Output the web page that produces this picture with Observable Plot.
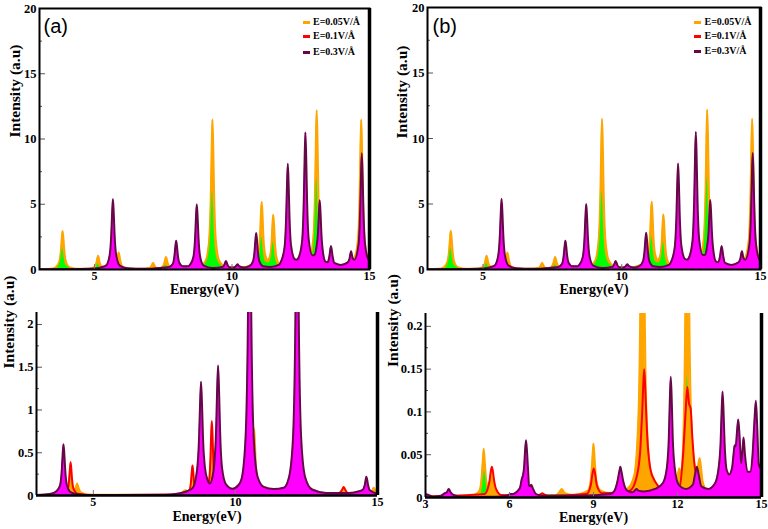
<!DOCTYPE html>
<html><head><meta charset="utf-8">
<script src="https://cdn.jsdelivr.net/npm/d3@7"></script>
<script src="https://cdn.jsdelivr.net/npm/@observablehq/plot@0.6"></script>
<style>
body{margin:0;background:#fff;}
#wrap{position:relative;width:768px;height:529px;overflow:hidden;background:#fff;}
.legend{position:absolute;font-family:"Liberation Serif",serif;font-weight:bold;font-size:10px;color:#000;}
.legend .row{position:absolute;white-space:nowrap;height:10px;line-height:10px;}
.legend .sw{position:absolute;width:7px;height:3px;}
</style></head><body><div id="wrap"></div>
<script>
// ---------- axes / labels ----------
const energyDomain = [3, 15];
const topYTicks = [0, 5, 10, 15, 20];
const topYMinor = [2.5, 7.5, 12.5, 17.5];
const topXTicks = [5, 10, 15];
const blYTicks = [0, 0.5, 1, 1.5, 2];
const blYMinor = [0.25, 0.75, 1.25, 1.75];
const blXTicks = [5, 10, 15];
const brYTicks = [0, 0.05, 0.1, 0.15, 0.2];
const brYMinor = [0.025, 0.075, 0.125, 0.175];
const brXTicks = [3, 6, 9, 12, 15];
const legendLabels = ["E=0.05V/Å", "E=0.1V/Å", "E=0.3V/Å"];
const xLabel = "Energy(eV)";
const yLabel = "Intensity (a.u)";

// ---------- spectra, [energy eV, intensity] ----------
// top panels (a) and (b) show the same spectra
const topOrange = [[3.0,0.02],[3.4,0.05],[3.59,0.17],[3.72,0.6],[3.78,1.5],[3.81,2.36],[3.84,2.95],[3.87,2.36],[3.90,1.5],[3.96,0.6],[4.09,0.17],[4.4,0.05],[4.8,0.06],[5.01,0.21],[5.07,0.52],[5.13,1.05],[5.19,0.52],[5.25,0.25],[5.6,0.2],[5.76,0.3],[5.82,0.65],[5.88,1.3],[5.94,0.65],[6.0,0.26],[6.2,0.08],[6.8,0.06],[7.01,0.12],[7.07,0.27],[7.13,0.5],[7.19,0.27],[7.25,0.12],[7.4,0.1],[7.48,0.22],[7.54,0.5],[7.6,0.95],[7.66,0.5],[7.72,0.25],[7.85,0.3],[8.1,0.25],[8.5,0.2],[8.79,0.2],[9.04,0.65],[9.17,2.3],[9.23,5.75],[9.26,9.2],[9.29,11.5],[9.32,9.2],[9.35,5.75],[9.41,2.3],[9.54,0.65],[9.79,0.2],[10.3,0.15],[10.7,0.35],[10.83,0.45],[10.96,1.1],[11.02,2.6],[11.05,4.2],[11.08,5.2],[11.11,4.2],[11.14,2.6],[11.2,1.2],[11.3,0.75],[11.38,1.0],[11.44,2.1],[11.47,3.4],[11.5,4.2],[11.53,3.4],[11.56,2.1],[11.62,0.9],[11.75,0.35],[12.0,0.2],[12.5,0.35],[12.83,0.9],[12.96,2.5],[13.02,6.1],[13.05,9.8],[13.08,12.2],[13.11,9.8],[13.14,6.1],[13.2,2.5],[13.33,0.8],[13.6,0.3],[14.2,0.4],[14.45,0.9],[14.58,2.3],[14.64,5.75],[14.67,9.2],[14.7,11.5],[14.73,9.2],[14.76,5.75],[14.82,2.3],[14.95,0.8],[15,0.65]];
const topGreen = [[3.0,0],[3.6,0.05],[3.72,0.32],[3.78,0.8],[3.84,1.6],[3.90,0.8],[3.96,0.32],[4.2,0.05],[4.9,0.02],[5.05,0.12],[5.13,0.45],[5.21,0.12],[5.6,0.05],[5.8,0.15],[5.88,0.6],[5.96,0.15],[6.3,0.02],[7.4,0.03],[7.52,0.1],[7.6,0.35],[7.68,0.1],[8.4,0.05],[8.9,0.25],[9.04,0.45],[9.17,1.3],[9.23,3],[9.26,4.8],[9.29,6],[9.32,4.8],[9.35,3],[9.41,1.3],[9.54,0.45],[9.7,0.2],[10.0,0.1],[10.85,0.3],[10.96,0.6],[11.02,1.3],[11.08,2.5],[11.14,1.3],[11.2,0.65],[11.3,0.5],[11.38,0.6],[11.44,1.05],[11.5,2.1],[11.56,1.05],[11.62,0.5],[11.8,0.2],[12.6,0.3],[12.85,0.8],[12.96,1.5],[13.02,3.5],[13.08,7],[13.14,3.5],[13.2,1.5],[13.35,0.6],[14.0,0.2],[14.5,0.3],[14.7,0.5],[15,0.3]];
const topMaroon = [[3.0,0.01],[4.5,0.03],[5.0,0.07],[5.3,0.2],[5.42,0.3],[5.55,1.08],[5.61,2.7],[5.64,4.3],[5.67,5.4],[5.70,4.3],[5.73,2.7],[5.79,1.08],[5.92,0.3],[6.2,0.1],[6.8,0.05],[7.5,0.15],[7.72,0.2],[7.85,0.44],[7.91,1.1],[7.94,1.76],[7.97,2.2],[8.0,1.76],[8.03,1.1],[8.09,0.5],[8.22,0.25],[8.4,0.25],[8.47,0.35],[8.6,1.0],[8.66,2.5],[8.69,4.0],[8.72,5.0],[8.75,4.0],[8.78,2.5],[8.84,1.0],[8.97,0.3],[9.3,0.12],[9.66,0.2],[9.72,0.35],[9.78,0.65],[9.84,0.35],[9.9,0.18],[10.05,0.15],[10.14,0.25],[10.2,0.4],[10.26,0.25],[10.45,0.15],[10.63,0.25],[10.76,0.6],[10.82,1.4],[10.85,2.24],[10.88,2.8],[10.91,2.24],[10.94,1.4],[11.0,0.6],[11.13,0.25],[11.4,0.2],[11.7,0.35],[11.78,0.6],[11.91,1.7],[11.97,4.1],[12.0,6.5],[12.03,8.1],[12.06,6.5],[12.09,4.1],[12.15,1.8],[12.28,0.8],[12.35,0.75],[12.42,0.9],[12.55,2.2],[12.61,5.3],[12.64,8.4],[12.67,10.5],[12.70,8.4],[12.73,5.3],[12.79,2.3],[12.92,1.1],[13.0,1.1],[13.07,1.7],[13.13,2.9],[13.16,4.3],[13.19,5.3],[13.22,4.3],[13.25,2.8],[13.31,1.3],[13.4,0.6],[13.48,0.55],[13.54,1.0],[13.6,1.8],[13.66,1.0],[13.72,0.5],[13.95,0.35],[14.21,0.55],[14.27,0.8],[14.33,1.4],[14.39,0.85],[14.45,0.75],[14.6,1.9],[14.66,4.5],[14.69,7.1],[14.72,8.9],[14.75,7.1],[14.78,4.5],[14.84,1.9],[14.95,0.8],[15,0.7]];

// bottom-left panel
const blOrange = [[3.0,0.003],[4.2,0.03],[4.33,0.06],[4.39,0.1],[4.43,0.14],[4.47,0.1],[4.55,0.04],[4.8,0.01],[7.9,0.01],[8.15,0.04],[8.24,0.06],[8.33,0.05],[8.6,0.08],[8.85,0.1],[8.95,0.19],[9.0,0.21],[9.05,0.18],[9.15,0.1],[9.4,0.05],[10.3,0.1],[10.5,0.25],[10.6,0.4],[10.63,0.6],[10.66,0.78],[10.69,0.6],[10.72,0.35],[10.8,0.15],[11.0,0.08],[12.5,0.03],[12.6,0.06],[12.65,0.08],[12.7,0.06],[12.8,0.03],[14.7,0.02],[14.82,0.06],[14.87,0.09],[14.92,0.06],[15,0.04]];
const blGreen = [[3.0,0],[4.35,0.003],[4.43,0.04],[4.5,0.003],[15,0]];
const blRed = [[3.0,0.003],[3.9,0.02],[4.05,0.06],[4.1,0.08],[4.15,0.195],[4.175,0.31],[4.2,0.39],[4.225,0.31],[4.25,0.195],[4.3,0.08],[4.45,0.02],[5.0,0.005],[7.8,0.01],[8.25,0.04],[8.39,0.07],[8.44,0.175],[8.465,0.28],[8.49,0.35],[8.515,0.28],[8.54,0.175],[8.59,0.08],[8.75,0.06],[8.95,0.1],[9.07,0.17],[9.12,0.43],[9.145,0.7],[9.17,0.87],[9.195,0.7],[9.22,0.43],[9.27,0.17],[9.4,0.05],[9.7,0.03],[13.5,0.01],[13.7,0.04],[13.76,0.07],[13.81,0.1],[13.86,0.07],[13.95,0.03],[14.3,0.005],[15,0.003]];
const blMaroon = [[3.0,0.005],[3.5,0.02],[3.7,0.05],[3.83,0.12],[3.89,0.3],[3.92,0.48],[3.95,0.6],[3.98,0.48],[4.01,0.3],[4.07,0.12],[4.2,0.04],[4.45,0.015],[5.0,0.005],[7.5,0.01],[8.0,0.025],[8.3,0.05],[8.5,0.09],[8.65,0.3],[8.72,0.67],[8.755,1.06],[8.79,1.33],[8.825,1.06],[8.86,0.67],[8.93,0.32],[9.02,0.18],[9.1,0.14],[9.18,0.2],[9.25,0.35],[9.32,0.76],[9.355,1.22],[9.39,1.52],[9.425,1.22],[9.46,0.76],[9.53,0.32],[9.67,0.13],[9.9,0.08],[10.1,0.12],[10.22,0.2],[10.36,0.7],[10.43,1.75],[10.465,2.8],[10.5,3.5],[10.535,2.8],[10.57,1.75],[10.64,0.7],[10.78,0.22],[11.0,0.1],[11.35,0.075],[11.7,0.09],[11.89,0.22],[12.03,0.7],[12.1,1.75],[12.135,2.8],[12.17,3.5],[12.205,2.8],[12.24,1.75],[12.31,0.7],[12.45,0.22],[12.7,0.07],[13.2,0.03],[14.0,0.03],[14.35,0.05],[14.49,0.07],[14.55,0.12],[14.61,0.22],[14.67,0.12],[14.73,0.06],[15.0,0.02]];

// bottom-right panel
const brOrange = [[3.0,0.001],[4.6,0.002],[4.85,0.005],[4.95,0.01],[5.0,0.022],[5.04,0.04],[5.08,0.057],[5.12,0.04],[5.16,0.022],[5.22,0.012],[5.4,0.005],[5.6,0.003],[7.6,0.002],[7.75,0.005],[7.87,0.01],[7.98,0.005],[8.3,0.003],[8.8,0.008],[8.9,0.02],[8.95,0.04],[9.0,0.063],[9.05,0.04],[9.1,0.02],[9.25,0.008],[9.6,0.005],[10.2,0.01],[10.45,0.025],[10.61,0.1],[10.68,0.25],[10.715,0.4],[10.75,0.5],[10.785,0.4],[10.82,0.25],[10.89,0.1],[11.05,0.03],[11.5,0.01],[11.9,0.012],[12.0,0.025],[12.07,0.034],[12.12,0.028],[12.2,0.06],[12.28,0.22],[12.315,0.36],[12.35,0.45],[12.385,0.36],[12.42,0.22],[12.49,0.09],[12.6,0.04],[12.7,0.03],[12.75,0.04],[12.79,0.046],[12.83,0.038],[12.9,0.018],[13.1,0.006],[13.5,0.003],[15,0.002]];
const brGreen = [[3.0,0],[4.95,0.002],[5.03,0.012],[5.08,0.025],[5.11,0.031],[5.14,0.025],[5.19,0.012],[5.3,0.003],[11.95,0.003],[12.03,0.012],[12.07,0.02],[12.11,0.013],[12.25,0.04],[12.31,0.1],[12.35,0.142],[12.39,0.1],[12.45,0.04],[12.55,0.015],[12.72,0.015],[12.79,0.024],[12.86,0.012],[13.0,0.003],[15,0]];
const brRed = [[3.0,0.001],[5.1,0.004],[5.22,0.01],[5.29,0.02],[5.33,0.03],[5.37,0.036],[5.41,0.03],[5.45,0.02],[5.52,0.01],[5.7,0.003],[7.0,0.002],[7.12,0.004],[7.17,0.005],[7.22,0.004],[7.4,0.002],[8.75,0.004],[8.9,0.014],[8.96,0.027],[9.01,0.034],[9.06,0.027],[9.12,0.014],[9.3,0.005],[10.3,0.008],[10.55,0.025],[10.68,0.06],[10.74,0.1],[10.775,0.13],[10.81,0.15],[10.845,0.13],[10.88,0.1],[10.94,0.06],[11.1,0.025],[11.5,0.01],[11.9,0.01],[12.07,0.012],[12.2,0.05],[12.29,0.1],[12.35,0.129],[12.41,0.11],[12.47,0.104],[12.53,0.07],[12.62,0.035],[12.8,0.015],[13.1,0.006],[15,0.002]];
const brMaroon = [[3.0,0.004],[3.1,0.003],[3.3,0.001],[3.55,0.002],[3.69,0.005],[3.76,0.006],[3.83,0.01],[3.9,0.006],[4.0,0.003],[4.3,0.001],[5.5,0.001],[5.9,0.002],[6.05,0.004],[6.12,0.004],[6.2,0.005],[6.3,0.008],[6.38,0.012],[6.44,0.022],[6.48,0.026],[6.52,0.035],[6.555,0.054],[6.59,0.067],[6.625,0.054],[6.66,0.034],[6.7,0.014],[6.74,0.013],[6.78,0.015],[6.83,0.011],[6.95,0.004],[7.2,0.002],[8.5,0.002],[9.6,0.004],[9.75,0.008],[9.85,0.018],[9.92,0.03],[9.96,0.036],[10.0,0.03],[10.07,0.018],[10.2,0.008],[10.4,0.006],[10.5,0.009],[10.54,0.01],[10.6,0.008],[10.8,0.007],[11.2,0.01],[11.48,0.017],[11.62,0.035],[11.69,0.07],[11.725,0.113],[11.76,0.141],[11.795,0.113],[11.83,0.07],[11.9,0.035],[12.04,0.015],[12.3,0.01],[12.55,0.015],[12.62,0.026],[12.69,0.036],[12.76,0.026],[12.85,0.013],[13.1,0.01],[13.33,0.016],[13.47,0.035],[13.54,0.065],[13.575,0.1],[13.61,0.124],[13.645,0.1],[13.68,0.065],[13.74,0.035],[13.78,0.03],[13.85,0.027],[13.95,0.035],[14.0,0.05],[14.04,0.061],[14.08,0.06],[14.12,0.075],[14.17,0.091],[14.22,0.07],[14.27,0.04],[14.32,0.055],[14.36,0.07],[14.41,0.05],[14.5,0.03],[14.6,0.03],[14.68,0.05],[14.74,0.085],[14.8,0.113],[14.85,0.08],[14.9,0.04],[14.95,0.035],[14.97,0.035],[15.0,0.02]];

// ---------- colours ----------
const C = {orange: "#ffa500", red: "#ff0000", green: "#00ff00", magenta: "#ff00ff", maroon: "#670748"};

function makePanel(cfg) {
  const fw = cfg.width - cfg.mL - cfg.mR, fh = cfg.height - cfg.mT - cfg.mB;
  const xy = {x: d => d[0], y: d => d[1], curve: "monotone-x", clip: true};
  const marks = [];
  for (const s of cfg.series) {
    if (s.fill) marks.push(Plot.areaY(s.data, {...xy, fill: s.fill}));
    if (s.stroke) marks.push(Plot.lineY(s.data, {...xy, stroke: s.stroke, strokeWidth: 2}));
  }
  marks.push(Plot.tickY(cfg.yMinor, {y: d => d, stroke: "#555", insetRight: fw - 3}));
  marks.push(Plot.tickY(cfg.yTicks, {y: d => d, stroke: "#555", insetRight: fw - 6}));
  marks.push(Plot.tickX(cfg.xTicks, {x: d => d, stroke: "#777", insetTop: fh - 5}));
  if (cfg.box) {
    marks.push(Plot.frame({stroke: "#000", strokeWidth: 2}));
  } else {
    marks.push(Plot.ruleX([energyDomain[0]], {stroke: "#000", strokeWidth: 2}));
    marks.push(Plot.ruleY([0], {stroke: "#000", strokeWidth: 2.5}));
  }
  marks.push(Plot.ruleX([energyDomain[1]], {stroke: "#000", strokeWidth: 3.5}));
  marks.push(Plot.axisY({ticks: cfg.yTicks, tickSize: 0, tickPadding: 3, label: null, tickFormat: d => String(d), fontSize: 12.5, fontWeight: "bold"}));
  marks.push(Plot.axisX({ticks: cfg.xTicks, tickSize: 0, tickPadding: 2, label: null, tickFormat: d => String(d), fontSize: 12, fontWeight: "bold"}));
  marks.push(Plot.text([xLabel], {text: d => d, frameAnchor: "bottom", dy: cfg.xLabelDy, fontSize: 14, fontWeight: "bold"}));
  marks.push(Plot.text([yLabel], {text: d => d, frameAnchor: "left", dx: cfg.yLabelDx, dy: cfg.yLabelDy, rotate: -90, fontSize: 15.5, fontWeight: "bold"}));
  if (cfg.tag) marks.push(Plot.text([cfg.tag], {text: d => d, frameAnchor: "top-left", dx: cfg.tagDx, dy: cfg.tagDy, textAnchor: "start", lineAnchor: "top", fontSize: 20, fontFamily: "'Liberation Sans', Arial, sans-serif"}));
  const svg = Plot.plot({
    width: cfg.width, height: cfg.height,
    marginLeft: cfg.mL, marginRight: cfg.mR, marginTop: cfg.mT, marginBottom: cfg.mB,
    x: {domain: energyDomain},
    y: {domain: cfg.yDomain},
    style: {background: "transparent", fontFamily: "'Liberation Serif', 'Times New Roman', serif", color: "#000", overflow: "visible"},
    marks
  });
  svg.style.position = "absolute";
  svg.style.left = cfg.left + "px";
  svg.style.top = cfg.top + "px";
  document.getElementById("wrap").appendChild(svg);
}

function addLegend(swLeft, textLeft, rows) {
  const colors = [C.orange, C.red, C.maroon];
  const box = document.createElement("div");
  box.className = "legend";
  box.style.left = "0px"; box.style.top = "0px";
  legendLabels.forEach((lab, i) => {
    const sw = document.createElement("div");
    sw.className = "sw";
    sw.style.left = swLeft + "px"; sw.style.top = (rows[i] - 1.5) + "px";
    sw.style.background = colors[i];
    box.appendChild(sw);
    const r = document.createElement("div");
    r.className = "row";
    r.style.left = textLeft + "px"; r.style.top = (rows[i] - 5.5) + "px";
    r.textContent = lab;
    box.appendChild(r);
  });
  document.getElementById("wrap").appendChild(box);
}

const topSeries = [
  {data: topOrange, fill: C.orange, stroke: C.orange},
  {data: topGreen, fill: C.green},
  {data: topMaroon, fill: C.magenta, stroke: C.maroon}
];

makePanel({left: 0, top: 0, width: 384, height: 305, mL: 39, mR: 15, mT: 8, mB: 36,
  yDomain: [0, 20], yTicks: topYTicks, yMinor: topYMinor, xTicks: topXTicks, box: true,
  series: topSeries, xLabelDy: 24.5, yLabelDx: -24, yLabelDy: -1.5, tag: "(a)", tagDx: 4, tagDy: 10.5});
makePanel({left: 384, top: 0, width: 384, height: 305, mL: 43, mR: 8, mT: 7, mB: 36,
  yDomain: [0, 20], yTicks: topYTicks, yMinor: topYMinor, xTicks: topXTicks, box: true,
  series: topSeries, xLabelDy: 24.5, yLabelDx: -25, yLabelDy: 0, tag: "(b)", tagDx: 5, tagDy: 11});
makePanel({left: 0, top: 300, width: 384, height: 229, mL: 36, mR: 7, mT: 12, mB: 34,
  yDomain: [0, 2.14], yTicks: blYTicks, yMinor: blYMinor, xTicks: blXTicks, box: false,
  series: [
    {data: blOrange, fill: C.orange, stroke: C.orange},
    {data: blGreen, fill: C.green},
    {data: blRed, fill: C.orange, stroke: C.red},
    {data: blMaroon, fill: C.magenta, stroke: C.maroon}
  ], xLabelDy: 25, yLabelDx: -27.5, yLabelDy: -35.5});
makePanel({left: 384, top: 300, width: 384, height: 229, mL: 41, mR: 7, mT: 13, mB: 32,
  yDomain: [0, 0.215], yTicks: brYTicks, yMinor: brYMinor, xTicks: brXTicks, box: false,
  series: [
    {data: brOrange, fill: C.orange, stroke: C.orange},
    {data: brGreen, fill: C.green},
    {data: brRed, fill: C.orange, stroke: C.red},
    {data: brMaroon, fill: C.magenta, stroke: C.maroon}
  ], xLabelDy: 24.2, yLabelDx: -32.5, yLabelDy: -38.5});

addLegend(303, 313, [22.7, 36.3, 52]);
addLegend(694, 704.5, [22.7, 36.3, 51.7]);
</script></body></html>
